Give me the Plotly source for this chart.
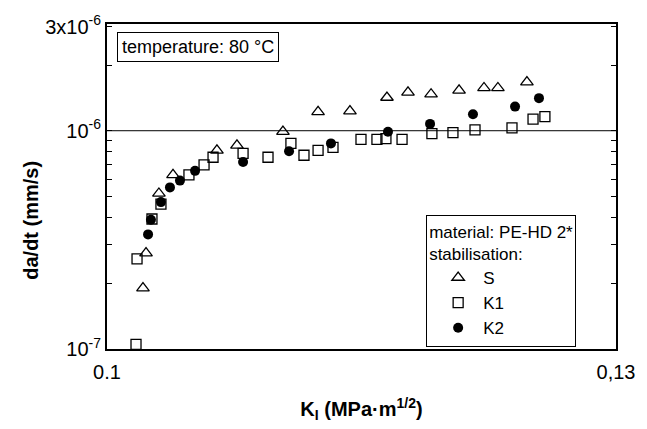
import numpy as np
import plotly.graph_objects as go

# Crack growth rate da/dt (mm/s) versus stress intensity factor K_I (MPa*m^1/2)
s_k = [0.10212, 0.10230, 0.10306, 0.10389, 0.10648, 0.10766, 0.11037, 0.11244,
       0.11432, 0.11650, 0.11774, 0.11910, 0.12075, 0.12222, 0.12304, 0.12475]
s_rate = [1.90e-7, 2.75e-7, 5.16e-7, 6.28e-7, 8.13e-7, 8.57e-7, 9.90e-7, 1.22e-6,
          1.23e-6, 1.42e-6, 1.50e-6, 1.47e-6, 1.53e-6, 1.57e-6, 1.57e-6, 1.67e-6]

k1_k = [0.10171, 0.10177, 0.10265, 0.10318, 0.10483, 0.10572, 0.10625, 0.10802,
        0.10949, 0.11084, 0.11161, 0.11244, 0.11332, 0.11497, 0.11591, 0.11644,
        0.11739, 0.11915, 0.12039, 0.12169, 0.12387, 0.12511, 0.12581]
k1_rate = [1.05e-7, 2.59e-7, 3.94e-7, 4.61e-7, 6.28e-7, 6.97e-7, 7.56e-7, 7.88e-7,
           7.56e-7, 8.75e-7, 7.72e-7, 8.13e-7, 8.39e-7, 9.12e-7, 9.12e-7, 9.21e-7,
           9.12e-7, 9.70e-7, 9.80e-7, 1.01e-6, 1.03e-6, 1.13e-6, 1.16e-6]

k2_k = [0.10242, 0.10259, 0.10318, 0.10371, 0.10430, 0.10519, 0.10802, 0.11073,
        0.11320, 0.11656, 0.11904, 0.12157, 0.12405, 0.12546]
k2_rate = [3.35e-7, 3.91e-7, 4.71e-7, 5.50e-7, 5.91e-7, 6.55e-7, 7.19e-7, 8.05e-7,
           8.75e-7, 9.90e-7, 1.075e-6, 1.19e-6, 1.29e-6, 1.41e-6]

x_tickvals = [0.1, 0.13]
x_ticktext = ["0.1", "0,13"]
y_major = [1e-7, 1e-6, 3e-6]
y_major_text = ["10<sup>-7</sup>", "10<sup>-6</sup>", "3x10<sup>-6</sup>"]
y_minor = [2e-7, 3e-7, 4e-7, 5e-7, 6e-7, 7e-7, 8e-7, 9e-7, 2e-6]

FONT = "Arial, Liberation Sans, sans-serif"

fig = go.Figure()
fig.add_trace(go.Scatter(
    x=s_k, y=s_rate, mode="markers", name="S", cliponaxis=False,
    marker=dict(symbol="triangle-up-open", size=11, color="black",
                line=dict(width=1.3, color="black"))))
fig.add_trace(go.Scatter(
    x=k1_k, y=k1_rate, mode="markers", name="K1", cliponaxis=False,
    marker=dict(symbol="square-open", size=10, color="black",
                line=dict(width=1.3, color="black"))))
fig.add_trace(go.Scatter(
    x=k2_k, y=k2_rate, mode="markers", name="K2", cliponaxis=False,
    marker=dict(symbol="circle", size=10, color="black")))

# reference level at 1e-6 mm/s
fig.add_shape(type="line", xref="paper", x0=0, x1=1, yref="y", y0=1e-6, y1=1e-6,
              line=dict(color="black", width=1))

y_tickvals = y_major + y_minor
y_ticktext = y_major_text + [""] * len(y_minor)

fig.update_layout(
    width=647, height=429,
    margin=dict(l=107, r=31, t=19, b=78),
    paper_bgcolor="white", plot_bgcolor="white",
    font=dict(family=FONT, color="black", size=20),
    showlegend=True,
    legend=dict(
        x=0.627, y=0.413, xanchor="left", yanchor="top",
        bordercolor="black", borderwidth=1, bgcolor="white",
        font=dict(size=17, family=FONT),
        title=dict(text="material: PE-HD 2*<br>stabilisation:",
                   font=dict(size=17, family=FONT), side="top"),
        indentation=6, itemwidth=40, tracegroupgap=2,
    ),
    xaxis=dict(
        range=[0.1, 0.13], tickvals=x_tickvals, ticktext=x_ticktext,
        ticks="", showgrid=False, zeroline=False,
        showline=True, linecolor="black", linewidth=2, mirror=True,
        tickfont=dict(size=20), ticklabelstandoff=4,
        title=dict(text="<b>K<sub>I</sub> (MPa·m<sup>1/2</sup>)</b>",
                   font=dict(size=20), standoff=20),
    ),
    yaxis=dict(
        type="log", range=[-7, -5.511],
        tickvals=y_tickvals, ticktext=y_ticktext,
        ticks="inside", ticklen=5, tickwidth=1, tickcolor="black",
        showgrid=False, zeroline=False,
        showline=True, linecolor="black", linewidth=2, mirror="allticks",
        tickfont=dict(size=20),
    ),
    annotations=[
        dict(text="temperature: 80 °C", xref="paper", yref="paper",
             x=0.02, y=0.975, xanchor="left", yanchor="top", showarrow=False,
             font=dict(size=18, family=FONT), bordercolor="black", borderwidth=1,
             borderpad=4, bgcolor="white"),
        dict(text="<b>da/dt (mm/s)</b>", xref="paper", yref="paper",
             x=-0.151, y=0.395, xanchor="center", yanchor="middle",
             textangle=-90, showarrow=False, font=dict(size=20, family=FONT)),
    ],
)

fig.write_html("out.html")
